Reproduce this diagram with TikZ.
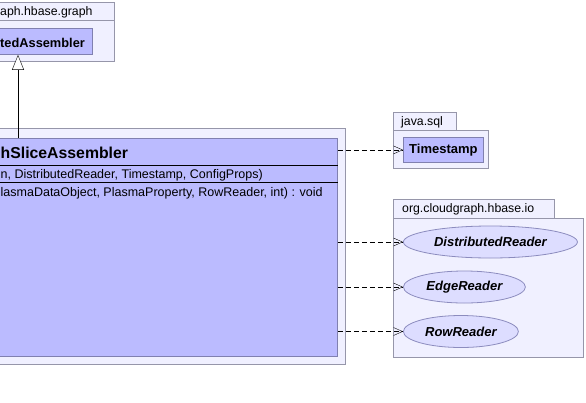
\documentclass[tikz,border=0pt]{standalone}
\usepackage{fontspec}
\setmainfont{Liberation Sans}
\usetikzlibrary{arrows.meta,shapes.geometric}

\definecolor{pkgFill}{RGB}{240,240,255}
\definecolor{pkgLine}{RGB}{150,150,170}
\definecolor{clsFill}{RGB}{187,187,255}
\definecolor{clsLine}{RGB}{128,128,176}
\definecolor{ifcFill}{RGB}{221,221,255}
\definecolor{ifcLine}{RGB}{140,140,190}

\begin{document}
\begin{tikzpicture}[x=1pt, y=-1pt,
    pkg/.style={draw=pkgLine, fill=pkgFill, line width=0.8pt, inner sep=0pt, anchor=north west},
    cls/.style={draw=clsLine, fill=clsFill, line width=0.8pt, inner sep=0pt, anchor=north west},
    ifc/.style={ellipse, draw=ifcLine, fill=ifcFill, line width=0.8pt, inner sep=0pt, anchor=west,
                minimum height=32, font=\fontsize{13}{15}\selectfont\bfseries\itshape},
    txt/.style={anchor=base west, inner sep=0pt},
    pkgname/.style={txt, font=\fontsize{12.3}{14}\selectfont},
    dep/.style={dash pattern=on 5pt off 3pt, -{Straight Barb[length=9pt,width=8pt]}},
    gen/.style={-{Triangle[open,fill=white,length=15pt,width=12pt]}}
]
    \useasboundingbox (0,0) rectangle (586,402);
    \clip (0,0) rectangle (586,402);

    % Package of the super class (cut at the left)
    \node[pkg, minimum width=134, minimum height=41] (graphPkg) at (-20,20) {};
    \node[pkg, minimum width=134, minimum height=18] (graphTab) at (-20,2) {};
    \node[pkgname] (graphName) at (0,15) {aph.hbase.graph};
    \node[cls, minimum width=112, minimum height=26] (distAsm) at (-20,28) {};
    \node[txt, font=\fontsize{12.8}{15}\selectfont\bfseries] (distAsmName) at (0,47) {tedAssembler};

    % Package and class of the assembler
    \node[pkg, minimum width=365, minimum height=236] (slicePkg) at (-20,128) {};
    \node[cls, minimum width=397, minimum height=218] (sliceAsm) at (-60,138) {};
    \draw ([yshift=-27pt]sliceAsm.north west) -- ([yshift=-27pt]sliceAsm.north east);
    \draw ([yshift=-44pt]sliceAsm.north west) -- ([yshift=-44pt]sliceAsm.north east);
    \node[txt, font=\fontsize{15.8}{18}\selectfont\bfseries] (sliceName) at (0.5,158) {hSliceAssembler};
    \node[txt, font=\fontsize{12.5}{15}\selectfont] (sliceCtor) at (0.5,178) {n, DistributedReader, Timestamp, ConfigProps)};
    \node[txt, font=\fontsize{12.5}{15}\selectfont] (sliceOp) at (0.5,196) {lasmaDataObject, PlasmaProperty, RowReader, int) : void};

    % java.sql
    \node[pkg, minimum width=95, minimum height=38] (sqlPkg) at (393,130) {};
    \node[pkg, minimum width=63, minimum height=18] (sqlTab) at (393,112) {};
    \node[pkgname] (sqlName) at (401,125) {java.sql};
    \node[cls, minimum width=80, minimum height=25, font=\fontsize{13}{15}\selectfont\bfseries] (ts) at (403,137) {Timestamp};

    % org.cloudgraph.hbase.io
    \node[pkg, minimum width=190, minimum height=139] (ioPkg) at (393,218) {};
    \node[pkg, minimum width=161, minimum height=19] (ioTab) at (393,199) {};
    \node[pkgname] (ioName) at (402,212) {org.cloudgraph.hbase.io};
    \foreach \name/\y/\w/\label in {distRd/242/174/DistributedReader, edgeRd/287/122/EdgeReader, rowRd/331.5/115/RowReader} {
        \node[ifc, minimum width=\w] (\name) at (403,\y) {\label};
    }

    % Generalization
    \coordinate (genX) at (18,0);
    \draw[gen] (sliceAsm.north -| genX) -- (distAsm.south -| genX);

    % Dependencies
    \foreach \target in {ts, distRd, edgeRd, rowRd} {
        \draw[dep] (\target.west -| sliceAsm.east) -- (\target.west);
    }
\end{tikzpicture}
\end{document}
